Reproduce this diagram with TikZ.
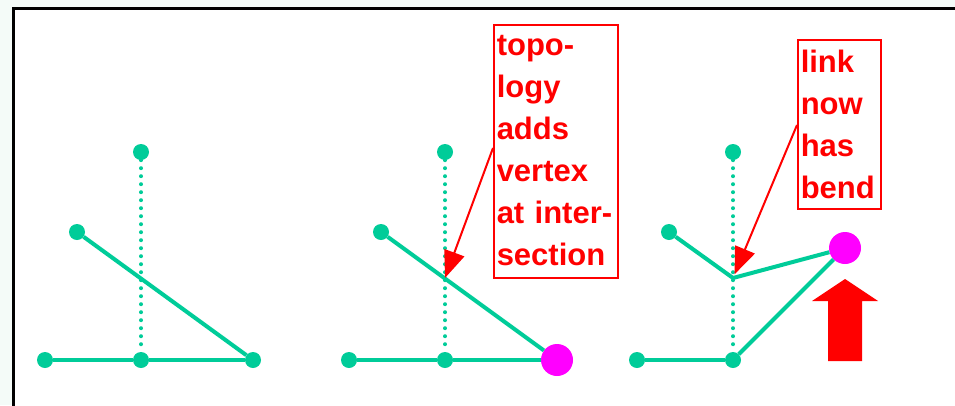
\documentclass[tikz,border=0pt]{standalone}
\usepackage{fontspec}
\setmainfont{Liberation Sans}
\usetikzlibrary{arrows.meta}
\definecolor{netgreen}{RGB}{0,204,153}
\definecolor{newpink}{RGB}{255,0,255}
\definecolor{alertred}{RGB}{255,0,0}
\definecolor{bgmint}{RGB}{244,251,248}
\begin{document}
\begin{tikzpicture}[x=1pt,y=-1pt,
  vtx/.style={circle,fill=netgreen,inner sep=0pt,minimum size=16pt},
  newvtx/.style={circle,fill=newpink,inner sep=0pt,minimum size=32pt},
  link/.style={draw=netgreen,line width=4pt},
  dotlink/.style={draw=netgreen,line width=4pt,line cap=round,dash pattern=on 0pt off 8pt},
  note/.style={draw=alertred,line width=1.5pt,fill=white,text=alertred,
    font=\bfseries\fontsize{31}{42}\selectfont,align=left,anchor=north west,
    inner xsep=3pt,inner ysep=0pt},
  pointer/.style={draw=alertred,line width=2pt,-{Triangle[length=27pt,width=21pt]}}
]
\useasboundingbox (0,0) rectangle (955,405);
% page background and framed slide area
\fill[bgmint] (0,0) rectangle (955,405);
\draw[line width=3pt,fill=white] (13.5,8.5) rectangle (975,425);

% ---- panel 1: two links crossing without a shared vertex
\node[vtx] (t1) at (141,152) {};
\node[vtx] (l1) at (77,232) {};
\node[vtx] (a1) at (45,360) {};
\node[vtx] (c1) at (141,360) {};
\node[vtx] (r1) at (253,360) {};
\draw[dotlink] (t1) -- (c1);
\draw[link] (a1) -- (c1);
\draw[link] (c1) -- (r1);
\draw[link] (l1) -- (r1);

% ---- panel 2: the moved vertex, crossing point gets a vertex
\node[vtx] (t2) at (445,152) {};
\node[vtx] (l2) at (381,232) {};
\node[vtx] (a2) at (349,360) {};
\node[vtx] (c2) at (445,360) {};
\node[newvtx] (m2) at (557,360) {};
\coordinate (x2) at (445,278);
\draw[dotlink] (t2) -- (c2);
\draw[link] (a2) -- (c2);
\draw[link] (c2) -- (m2);
\draw[link] (l2) -- (m2);

\node[note,text width=118pt] (n2) at (493,24)
  {\rule{0pt}{31pt}topo-\\logy\\adds\\vertex\\at inter-\\section\rule[-12pt]{0pt}{12pt}};
\coordinate (s2) at (493,148);
\draw[pointer] (s2) -- (x2);

% ---- panel 3: vertex moved up, link bends at the added vertex
\node[vtx] (t3) at (733,152) {};
\node[vtx] (l3) at (669,232) {};
\node[vtx] (a3) at (637,360) {};
\node[vtx] (c3) at (733,360) {};
\node[newvtx] (m3) at (845,248) {};
\coordinate (x3) at (733,278);
\draw[dotlink] (t3) -- (c3);
\draw[link] (a3) -- (c3);
\draw[link] (c3) -- (m3);
\draw[link,line join=miter] (l3) -- (x3) -- (m3);

\node[note,text width=77pt] (n3) at (797,39)
  {\rule{0pt}{33pt}link\\now\\has\\bend\rule[-10pt]{0pt}{10pt}};
\coordinate (s3) at (797,125);
\draw[pointer,shorten >=4pt] (s3) -- (x3);

% upward move arrow
\fill[alertred] (828,361) -- (828,301) -- (812,301) -- (845,279) -- (878,301)
  -- (862,301) -- (862,361) -- cycle;
\end{tikzpicture}
\end{document}
